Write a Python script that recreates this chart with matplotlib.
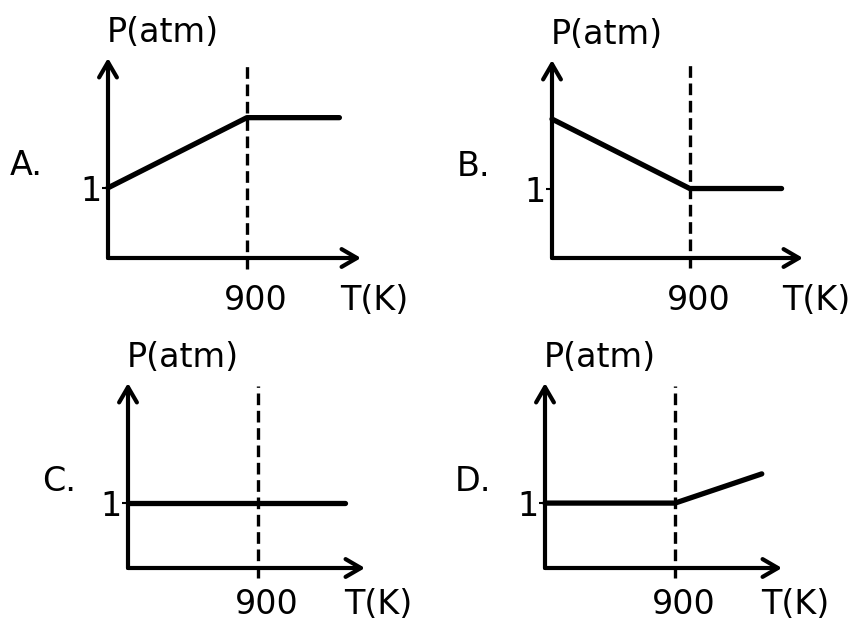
import matplotlib.pyplot as plt

# Data for the four panels (T in K, P in atm)
panel_labels = ['A.', 'B.', 'C.', 'D.']
t_A = [0, 900, 1500]
p_A = [1, 2, 2]
t_B = [0, 900, 1500]
p_B = [2, 1, 1]
t_C = [0, 900, 1500]
p_C = [1, 1, 1]
t_D = [0, 900, 1500]
p_D = [1, 1, 1.45]
t_mark = 900
p_tick = 1

W, H = 854, 622
fig = plt.figure(figsize=(W / 100, H / 100), dpi=100)
plt.rcParams['font.family'] = 'DejaVu Sans'
FS = 24


def px_axes(left, bottom_from_top, width, height):
    # place axes using pixel positions (origin bottom-left of the plot area)
    return fig.add_axes([left / W, (H - bottom_from_top) / H, width / W, height / H])


boxes = [(108, 258, 253, 200), (552, 258, 251, 198),
         (128, 568, 237, 185), (545, 568, 237, 185)]
series = [(t_A, p_A), (t_B, p_B), (t_C, p_C), (t_D, p_D)]
letter_dx = [-98, -95, -86, -90]
label_dy = [-52, -52, -46, -46]

for box, (t, p), lab, dx, dy in zip(boxes, series, panel_labels, letter_dx, label_dy):
    ax = px_axes(*box)
    ax.set_xlim(0, 1640)
    ax.set_ylim(0, 2.85)
    for s in ax.spines.values():
        s.set_visible(False)
    ax.patch.set_alpha(0)

    # axes with arrow heads
    arrow = dict(arrowstyle='->,head_length=0.55,head_width=0.32',
                 lw=3, color='black', mutation_scale=20, shrinkA=0, shrinkB=0)
    ax.annotate('', xy=(1640, 0), xytext=(0, 0), arrowprops=arrow,
                annotation_clip=False)
    ax.annotate('', xy=(0, 2.85), xytext=(0, 0), arrowprops=arrow,
                annotation_clip=False)

    # dashed line at 900 K
    ax.plot([t_mark, t_mark], [-0.15, 2.8], color='black', lw=2.4,
            dashes=(3.5, 1.7), clip_on=False)

    # P(T) curve
    ax.plot(t, p, color='black', lw=3.8, solid_capstyle='round',
            solid_joinstyle='round', clip_on=False)

    # ticks
    ax.set_xticks([])
    ax.set_yticks([p_tick])
    ax.set_yticklabels(['1'], fontsize=FS)
    ax.tick_params(axis='y', length=4, width=1.5, pad=0.5)

    ax.annotate(str(t_mark), xy=(t_mark, 0), xytext=(9, dy),
                textcoords='offset pixels', ha='center', va='baseline', fontsize=FS)
    ax.annotate('T(K)', xy=(1, 0), xycoords='axes fraction', xytext=(47, dy),
                textcoords='offset pixels', ha='right', va='baseline', fontsize=FS)
    ax.annotate('P(atm)', xy=(0, 1), xycoords='axes fraction', xytext=(-1, 16),
                textcoords='offset pixels', ha='left', va='baseline', fontsize=FS)
    ax.annotate(lab, xy=(0, 1.18), xytext=(dx, 0), textcoords='offset pixels',
                ha='left', va='baseline', fontsize=FS, annotation_clip=False)

fig.savefig('out.png', dpi=100, facecolor='white')
